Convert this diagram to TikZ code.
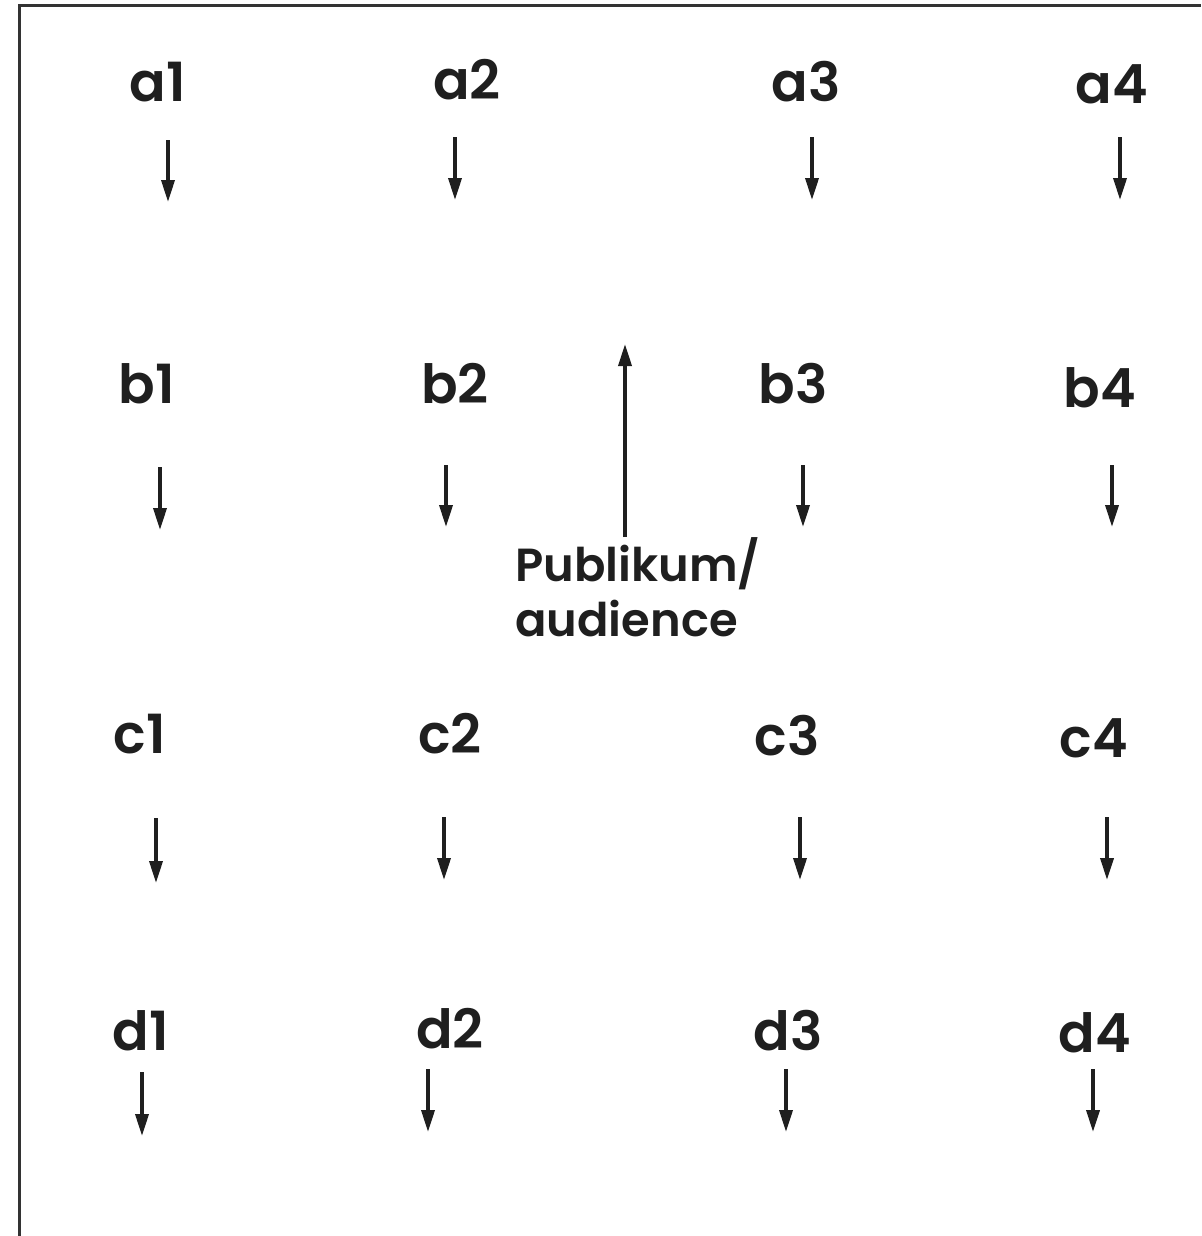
\documentclass[tikz,border=0pt]{standalone}
\usepackage{fontspec}
\setmainfont{Poppins}[BoldFont={Poppins SemiBold}]
\usetikzlibrary{arrows.meta}
\begin{document}
\begin{tikzpicture}[x=0.5pt,y=-0.5pt,
  lbl/.style={inner sep=0pt,anchor=base,font=\fontsize{27}{32}\selectfont\bfseries,text=black!88},
  pubtxt/.style={inner sep=0pt,anchor=base west,align=left,font=\fontsize{23.2}{27.5}\selectfont\bfseries,text=black!88},
  arr/.style={line width=1.8pt,draw=black!88,-{Triangle[length=11pt,width=6.5pt]}},
  frame/.style={line width=1.5pt,draw=black!80}]
\useasboundingbox (0,0) rectangle (1201,1236);
% frame (open on right and bottom)
\draw[frame] (19,1236) -- (19,6) -- (1201,6);
% labels
\node[lbl] (a1) at (158,102) {a1};
\node[lbl] (a2) at (467,100) {a2};
\node[lbl] (a3) at (806,102) {a3};
\node[lbl] (a4) at (1112,104) {a4};
\node[lbl] (b1) at (147,403) {b1};
\node[lbl] (b2) at (455,403) {b2};
\node[lbl] (b3) at (793,403) {b3};
\node[lbl] (b4) at (1100,407) {b4};
\node[lbl] (c1) at (140,753) {c1};
\node[lbl] (c2) at (450,753) {c2};
\node[lbl] (c3) at (787,755) {c3};
\node[lbl] (c4) at (1094,757) {c4};
\node[lbl] (d1) at (141,1050) {d1};
\node[lbl] (d2) at (450,1048) {d2};
\node[lbl] (d3) at (788,1050) {d3};
\node[lbl] (d4) at (1095,1052) {d4};
\node[pubtxt] (pub) at (515,636) {Publikum/\\audience};
% arrow end points
\coordinate (a1s) at (168,140); \coordinate (a1e) at (168,202);
\coordinate (a2s) at (455,137); \coordinate (a2e) at (455,200);
\coordinate (a3s) at (812,137); \coordinate (a3e) at (812,200);
\coordinate (a4s) at (1120,137); \coordinate (a4e) at (1120,200);
\coordinate (b1s) at (160,467); \coordinate (b1e) at (160,530);
\coordinate (b2s) at (446,465); \coordinate (b2e) at (446,527);
\coordinate (b3s) at (803,465); \coordinate (b3e) at (803,527);
\coordinate (b4s) at (1112,465); \coordinate (b4e) at (1112,527);
\coordinate (c1s) at (156,818); \coordinate (c1e) at (156,883);
\coordinate (c2s) at (444,817); \coordinate (c2e) at (444,880);
\coordinate (c3s) at (800,817); \coordinate (c3e) at (800,880);
\coordinate (c4s) at (1107,817); \coordinate (c4e) at (1107,880);
\coordinate (d1s) at (142,1072); \coordinate (d1e) at (142,1136);
\coordinate (d2s) at (428,1069); \coordinate (d2e) at (428,1132);
\coordinate (d3s) at (786,1069); \coordinate (d3e) at (786,1132);
\coordinate (d4s) at (1093,1069); \coordinate (d4e) at (1093,1132);
\coordinate (ps) at (625,537); \coordinate (pe) at (625,344);
% arrows
\foreach \r in {a,b,c,d}{\foreach \i in {1,2,3,4}{\draw[arr] (\r\i s) -- (\r\i e);}}
\draw[arr] (ps) -- (pe);
\end{tikzpicture}
\end{document}
